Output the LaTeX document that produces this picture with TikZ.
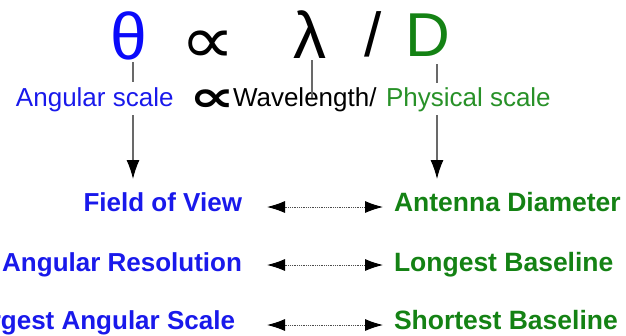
\documentclass[tikz,border=0pt]{standalone}
\usepackage{fontspec}
\setmainfont{Liberation Sans}
\newfontfamily\djv{DejaVu Sans}
\usetikzlibrary{arrows.meta}
\definecolor{myblue}{RGB}{25,25,235}
\definecolor{thblue}{RGB}{10,10,250}
\definecolor{mygreen}{RGB}{20,130,20}
\definecolor{ltgreen}{RGB}{40,145,40}
\definecolor{lgray}{RGB}{105,105,105}
\tikzset{
  txt/.style={inner sep=0pt, outer sep=0pt},
  big/.style={txt, font=\fontsize{62}{70}\selectfont},
  greek/.style={txt, font=\fontsize{66}{75}\selectfont},
  mid/.style={txt, font=\fontsize{26}{30}\selectfont},
  bldl/.style={txt, font=\bfseries\fontsize{26}{30}\selectfont},
  bldr/.style={txt, font=\bfseries\fontsize{26.5}{30}\selectfont},
  tick/.style={draw=lgray, line width=1.1pt},
  down/.style={draw=lgray, line width=1.1pt, -{Latex[length=19pt,width=13pt,color=black]}},
  pair/.style={draw=black!70, line width=0.9pt, dash pattern=on 0.9pt off 0.9pt,
    {Latex[length=18pt,width=12pt,color=black]}-{Latex[length=18pt,width=12pt,color=black]}}
}
\begin{document}
\begin{tikzpicture}[x=1pt,y=-1pt]
\useasboundingbox (0,0) rectangle (626,335);
% top formula
\node[greek, anchor=base, text=thblue] (theta) at (129,59) {θ};
\node[txt, anchor=base, font=\djv\fontsize{67}{75}\selectfont] (prop) at (208.5,63) {\scalebox{1.15}[1]{∝}};
\node[greek, anchor=base] (lam) at (310,58) {λ};
\node[big, anchor=base] (slash) at (373,56) {/};
\node[big, anchor=base, text=mygreen] (D) at (428,56) {D};
% second row
\node[mid, anchor=base west, text=myblue] (angs) at (16,106) {Angular scale};
\node[txt, anchor=base, font=\djv\bfseries\fontsize{43}{50}\selectfont] (prop2) at (212,111) {\scalebox{1.5}[1]{∝}};
\node[mid, anchor=base west] (wave) at (233,106) {Wavelength/};
\node[mid, anchor=base west, text=ltgreen] (phys) at (386,106) {Physical scale};
% rows
\node[bldl, anchor=base east, text=myblue] (fov) at (242,211) {Field of View};
\node[bldl, anchor=base east, text=myblue] (res) at (242,271) {Angular Resolution};
\node[bldl, anchor=base east, text=myblue] (las) at (235,329) {Largest Angular Scale};
\node[bldr, anchor=base west, text=mygreen] (ant) at (394,211) {Antenna Diameter};
\node[bldr, anchor=base west, text=mygreen] (lng) at (394,271) {Longest Baseline};
\node[bldr, anchor=base west, text=mygreen] (sht) at (394,329) {Shortest Baseline};
% tick coordinates
\coordinate (t1a) at (133,62); \coordinate (t1b) at (133,82);
\coordinate (t2a) at (312,60); \coordinate (t2b) at (312,98);
\coordinate (t3a) at (437,64); \coordinate (t3b) at (437,83);
\coordinate (d1a) at (133,115); \coordinate (d1b) at (133,179);
\coordinate (d2a) at (437,115); \coordinate (d2b) at (437,179);
\draw[tick] (t1a) -- (t1b);
\draw[tick] (t2a) -- (t2b);
\draw[tick] (t3a) -- (t3b);
\draw[down] (d1a) -- (d1b);
\draw[down] (d2a) -- (d2b);
% double arrows
\coordinate (a1l) at (267,207); \coordinate (a1r) at (383,207);
\coordinate (a2l) at (267,265); \coordinate (a2r) at (383,265);
\coordinate (a3l) at (267,325); \coordinate (a3r) at (383,325);
\draw[pair] (a1l) -- (a1r);
\draw[pair] (a2l) -- (a2r);
\draw[pair] (a3l) -- (a3r);
\end{tikzpicture}
\end{document}
